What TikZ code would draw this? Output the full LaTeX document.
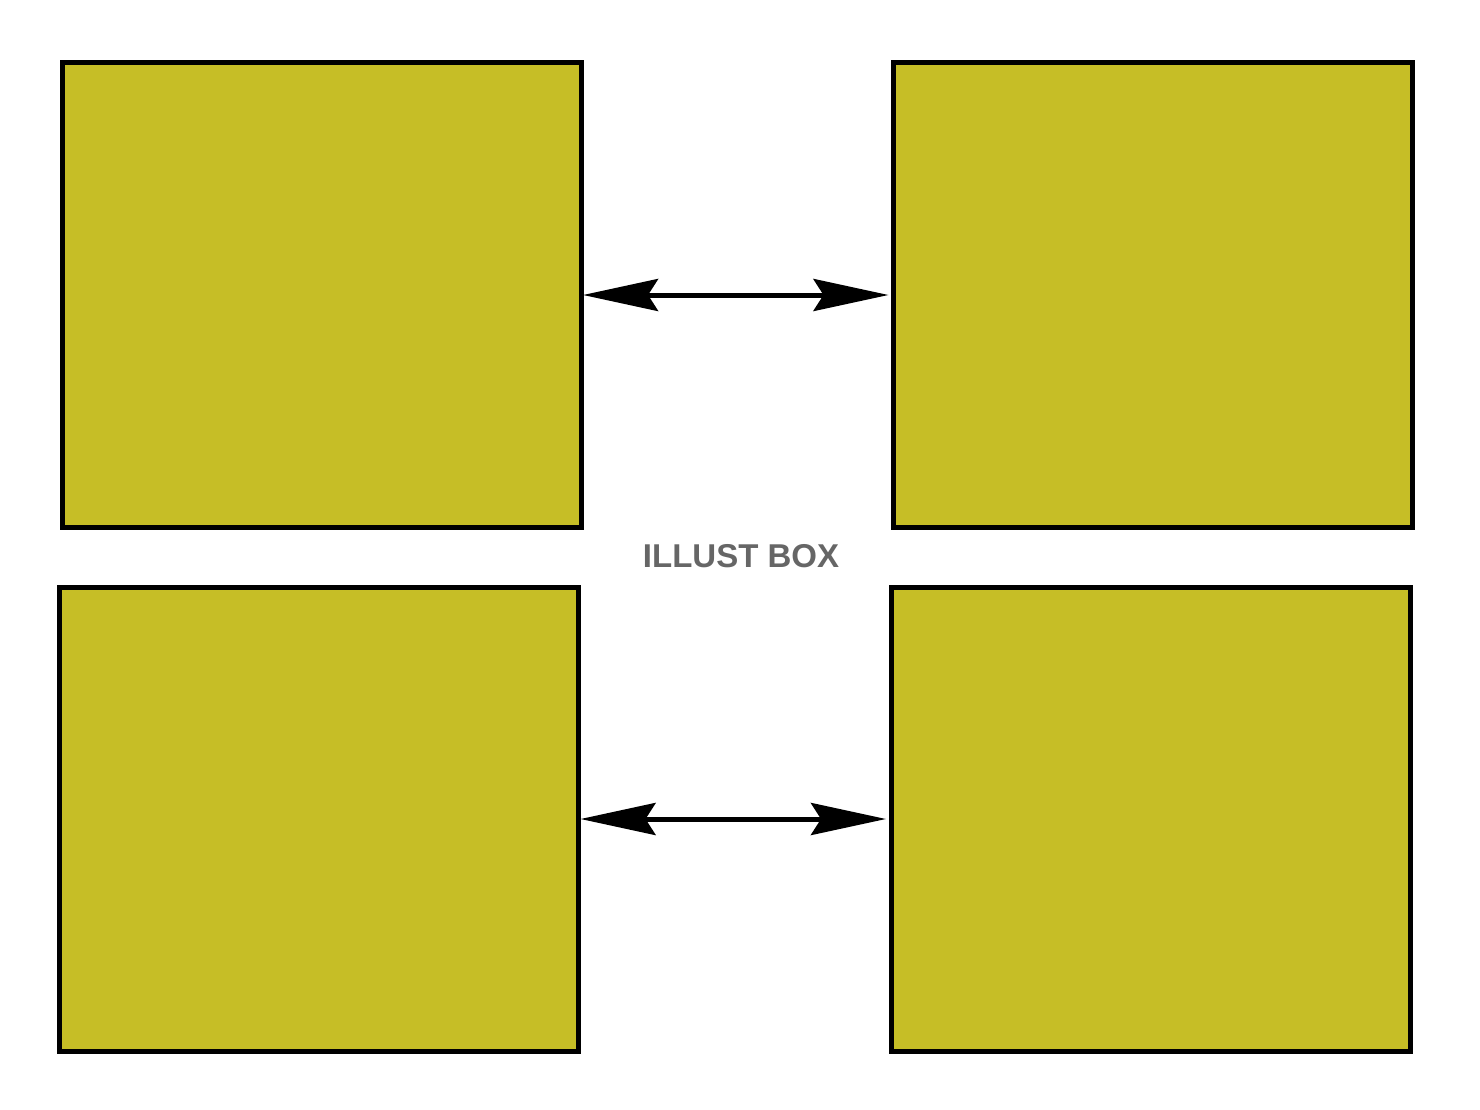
\documentclass[tikz,border=0pt]{standalone}
\usepackage{fontspec}
\setsansfont{Liberation Sans}
\usetikzlibrary{arrows.meta}
\definecolor{boxfill}{RGB}{198,190,38}
\definecolor{markgray}{RGB}{102,102,102}
\tikzset{
  panel/.style={draw=black, fill=boxfill, line width=5pt, inner sep=0pt, outer sep=0pt,
    minimum width=519pt, minimum height=464pt, rectangle},
  link/.style={line width=5pt, {Stealth[length=75pt,width=32pt,inset=10pt]}-{Stealth[length=75pt,width=32pt,inset=10pt]}},
  watermark/.style={text=markgray, font=\sffamily\bfseries\fontsize{33}{33}\selectfont, inner sep=0pt}
}
\begin{document}
\begin{tikzpicture}[x=1pt,y=-1pt]
\useasboundingbox (0,0) rectangle (1480,1110);
\fill[white] (0,0) rectangle (1480,1110);
\node[panel] (tl) at (321.5,295) {};
\node[panel] (tr) at (1153,295) {};
\node[panel] (bl) at (319,819) {};
\node[panel] (br) at (1150.5,819) {};
\draw[link, shorten <=2pt, shorten >=5pt] (tl.east) -- (tr.west);
\draw[link, shorten <=2pt, shorten >=5pt] (bl.east) -- (br.west);
\node[watermark] (wm) at (741,556) {ILLUST BOX};
\end{tikzpicture}
\end{document}
